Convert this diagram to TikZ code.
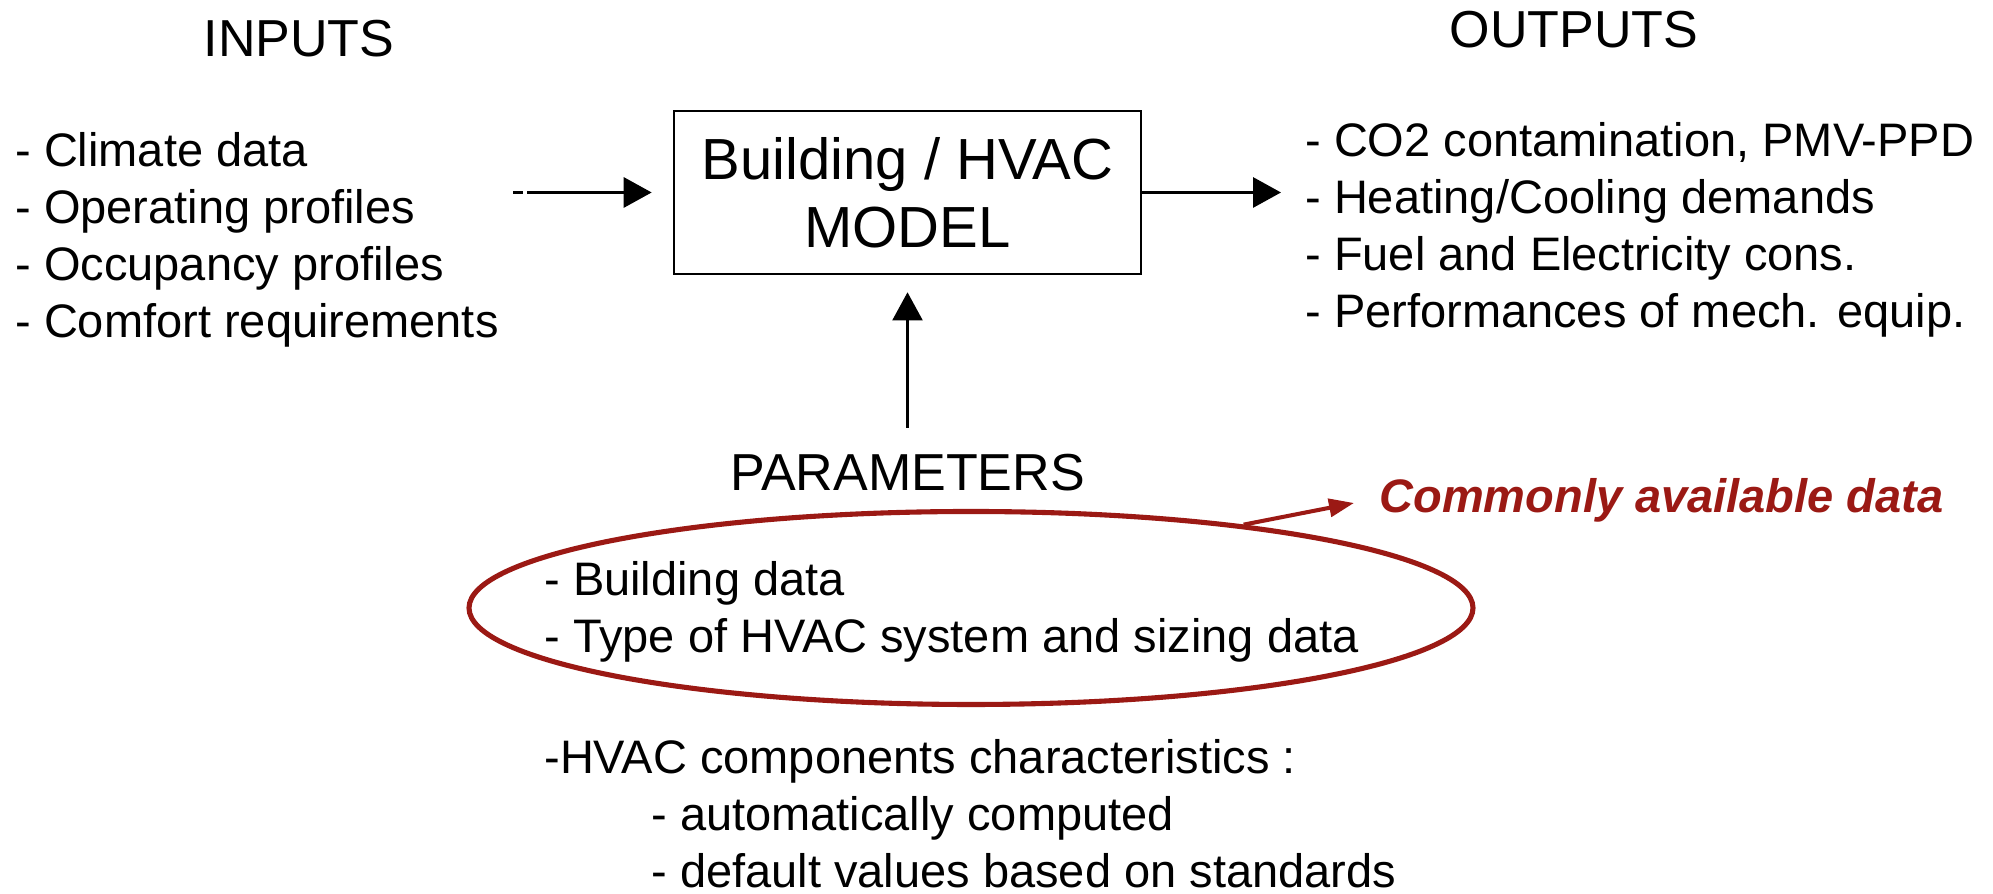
\documentclass[tikz,border=0pt]{standalone}
\usepackage{fontspec}
\setmainfont{Liberation Sans}
\definecolor{ParamRed}{RGB}{155,25,20}
\usepackage{tikz}
\usetikzlibrary{positioning, shapes, arrows.meta}

\begin{document}
\begin{tikzpicture}[
  head/.style={inner sep=0pt, font=\fontsize{29.6}{35}\selectfont},
  itemlist/.style={inner sep=0pt, align=left, anchor=west, font=\fontsize{26.75}{32.44}\selectfont},
  flow/.style={-{Triangle[length=0.56cm, width=0.6cm]}, line width=1.8pt},
]
\useasboundingbox (0,0) rectangle (39.86,17.88);

\node[head] (inputs) at (5.98,17.10) {INPUTS};
\node[head] (outputs) at (31.48,17.28) {OUTPUTS};
\node[head] (params) at (18.15,8.42) {PARAMETERS};

\node[draw, line width=1.5pt, minimum width=9.34cm, minimum height=3.26cm, align=center, font=\fontsize{33}{38.7}\selectfont] (model) at (18.15,14.03) {Building / HVAC\\MODEL};

\node[itemlist] (inlist) at (0.30,13.08) {- Climate data\\- Operating profiles\\- Occupancy profiles\\- Comfort requirements};
\node[itemlist] (outlist) at (26.10,13.29) {- CO2 contamination, PMV-PPD\\- Heating/Cooling demands\\- Fuel and Electricity cons.\\- Performances of mech. equip.};

\node[ellipse, draw=ParamRed, line width=2.9pt, minimum width=20.08cm, minimum height=3.86cm] (ring) at (19.42,5.72) {};
\node[itemlist] (pdata) at (10.88,5.64) {- Building data\\- Type of HVAC system and sizing data};
\node[anchor=west, inner sep=0pt, text=ParamRed, font=\fontsize{26.75}{32}\selectfont\bfseries\itshape] (common) at (27.58,7.88) {Commonly available data};

\node[itemlist] (hvac) at (10.88,1.60) {-HVAC components characteristics :\\\hspace*{2.14cm}- automatically computed\\\hspace*{2.14cm}- default values based on standards};

\coordinate (infeed) at (10.26,14.03);
\coordinate (outfeed) at (25.62,14.03);

\draw[flow, dash pattern=on 0.2cm off 0.08cm on 3cm] (infeed) -- ([xshift=-0.42cm]model.west);
\draw[flow] (model.east) -- (outfeed);
\draw[flow, line width=1.2pt] ([yshift=0.53cm]params.north) -- ([yshift=-0.34cm]model.south);
\draw[ParamRed, line width=2.3pt, -{Triangle[length=0.5cm, width=0.36cm]}] (ring.17) -- ([xshift=-0.5cm,yshift=-0.06cm]common.west);
\end{tikzpicture}
\end{document}
